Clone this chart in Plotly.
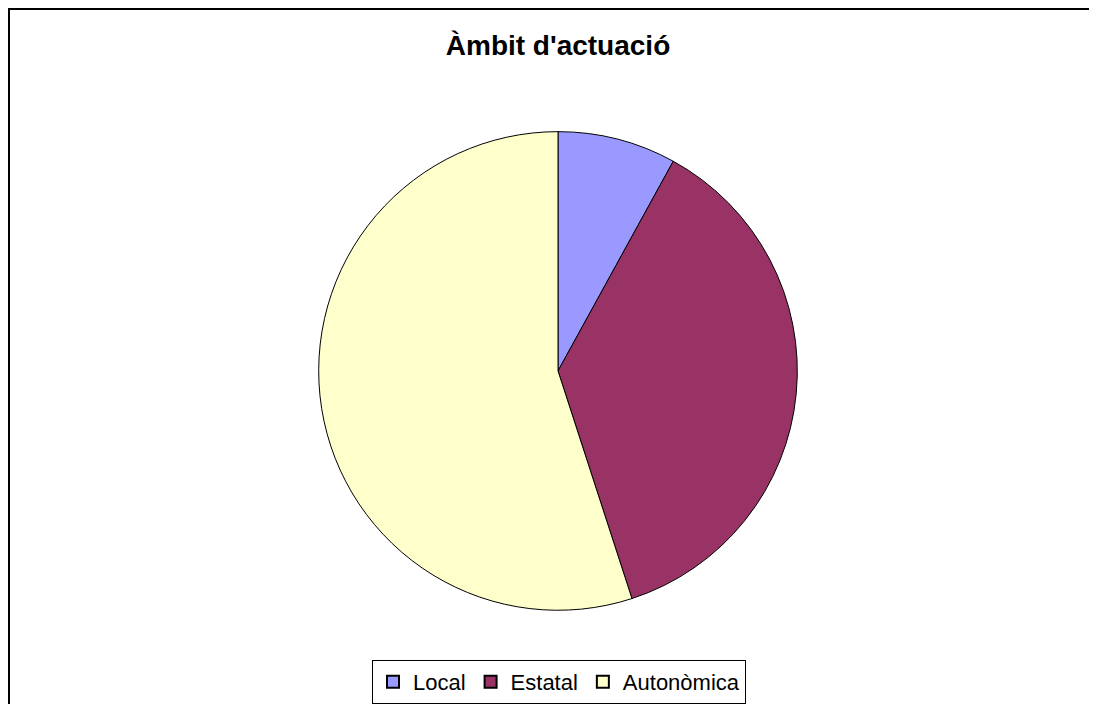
import plotly.graph_objects as go

labels = ["Local", "Estatal", "Autonòmica"]
values = [8, 37, 55]
colors = ["#9999FF", "#993366", "#FFFFCC"]

# the page body adds an 8px margin; figure coordinates are page coordinates minus 8
OFF = 8
W, H = 1097 - OFF, 704 - OFF
cx, cy, r = 558 - OFF, 372 - OFF, 240

fig = go.Figure(go.Pie(
    labels=labels, values=values, sort=False, direction="clockwise", rotation=0,
    marker=dict(colors=colors, line=dict(color="black", width=1)),
    textinfo="none", hoverinfo="label+percent",
    domain=dict(x=[(cx - r) / W, (cx + r) / W], y=[1 - (cy + r) / H, 1 - (cy - r) / H]),
))

fig.update_layout(
    width=W, height=H, margin=dict(l=0, r=0, t=0, b=0),
    paper_bgcolor="white", plot_bgcolor="white",
    font=dict(family="Liberation Sans, Arial, sans-serif", color="black"),
    title=dict(text="<b>Àmbit d'actuació</b>", x=cx / W, xanchor="center",
               y=1 - (45 - OFF) / H, yanchor="middle", font=dict(size=28, color="black")),
    legend=dict(orientation="h", x=(cx + 1) / W, xanchor="center", y=1 - (662 - OFF) / H, yanchor="top",
                font=dict(size=22), bordercolor="black", borderwidth=1,
                bgcolor="white", itemsizing="constant"),
    shapes=[dict(type="rect", xref="paper", yref="paper",
                 x0=1 / W, x1=1.01, y0=-0.01, y1=1 - 1 / H,
                 line=dict(color="black", width=2))],
)

fig.write_html("out.html")
